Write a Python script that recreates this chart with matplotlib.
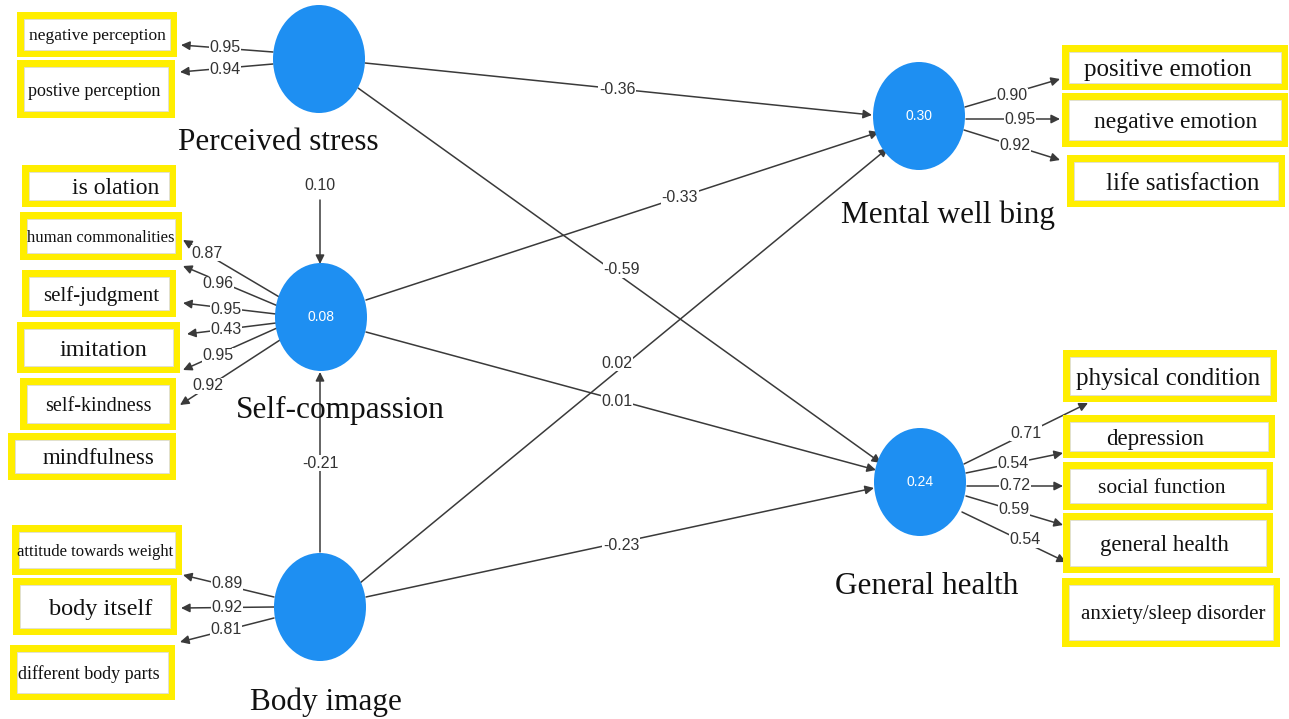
import matplotlib.pyplot as plt
import matplotlib.patches as patches

# ---- data ----
constructs = ['Perceived stress', 'Self-compassion', 'Body image', 'Mental well bing', 'General health']
r_squared = [None, 0.08, None, 0.30, 0.24]

path_from = ['Perceived stress', 'Perceived stress', 'Self-compassion', 'Self-compassion',
             'Body image', 'Body image', 'Perceived stress', 'Body image']
path_to = ['Mental well bing', 'General health', 'Mental well bing', 'General health',
           'Mental well bing', 'General health', 'Self-compassion', 'Self-compassion']
path_coef = [-0.36, -0.59, -0.33, 0.01, 0.02, -0.23, 0.10, -0.21]

ps_items = ['negative perception', 'postive perception']
ps_loadings = [0.95, 0.94]
sc_items = ['is olation', 'human commonalities', 'self-judgment', 'imitation', 'self-kindness', 'mindfulness']
sc_loadings = [0.87, 0.96, 0.95, 0.43, 0.95, 0.92]
bi_items = ['attitude towards weight', 'body itself', 'different body parts']
bi_loadings = [0.89, 0.92, 0.81]
mw_items = ['positive emotion', 'negative emotion', 'life satisfaction']
mw_loadings = [0.90, 0.95, 0.92]
gh_items = ['physical condition', 'depression', 'social function', 'general health', 'anxiety/sleep disorder']
gh_loadings = [0.71, 0.54, 0.72, 0.59, 0.54]

# ---- layout (pixel coords) ----
W, H = 1289, 719
node_xy = {'Perceived stress': (319, 59), 'Self-compassion': (321, 317), 'Body image': (320, 607),
           'Mental well bing': (919, 116), 'General health': (920, 482)}
node_label_xy = {'Perceived stress': (278, 142), 'Self-compassion': (340, 410), 'Body image': (326, 702),
                 'Mental well bing': (948, 215), 'General health': (927, 587)}

# path line start, end, label position
path_geom = [((365, 63), (872, 115), (617, 90)),
             ((358, 88), (881, 463), (622, 270)),
             ((366, 300), (879, 132), (680, 198)),
             ((366, 332), (876, 470), (617, 402)),
             ((360, 583), (888, 148), (617, 363)),
             ((366, 597), (874, 488), (621, 545)),
             ((320, 200), (320, 264), (320, 185)),
             ((320, 552), (320, 372), (320, 463))]

# indicator boxes: (x0, y0, x1, y1), text x, font size
ps_boxes = [((17, 12, 177, 57), 97, 12.5), ((17, 60, 175, 118), 94, 13)]
sc_boxes = [((22, 165, 176, 207), 116, 17), ((20, 212, 182, 260), 101, 12),
            ((22, 270, 176, 317), 101, 15), ((17, 322, 180, 373), 103, 17.5),
            ((20, 378, 176, 430), 98, 14.5), ((8, 433, 176, 480), 99, 16.5)]
bi_boxes = [((12, 525, 182, 575), 95, 12), ((13, 578, 177, 635), 101, 17.5),
            ((10, 645, 175, 700), 89, 13)]
mw_boxes = [((1062, 45, 1288, 90), 1168, 18), ((1062, 93, 1288, 147), 1176, 17),
            ((1067, 155, 1285, 207), 1183, 18)]
gh_boxes = [((1063, 350, 1277, 402), 1168, 18), ((1063, 415, 1275, 458), 1155, 16.5),
            ((1063, 462, 1273, 510), 1162, 15.5), ((1063, 513, 1273, 573), 1164, 16.5),
            ((1062, 578, 1280, 647), 1173, 15)]

# loading arrows: start, end, label position
ps_arrows = [((273, 52), (181, 45), (225, 48)), ((273, 64), (180, 72), (225, 70))]
sc_arrows = [((281, 298), (183, 240), (207, 253)), ((278, 306), (183, 266), (218, 284)),
             ((276, 314), (183, 303), (226, 310)), ((276, 323), (187, 334), (226, 329)),
             ((277, 328), (183, 370), (218, 356)), ((280, 340), (180, 405), (208, 386))]
bi_arrows = [((274, 597), (183, 575), (227, 583)), ((274, 607), (181, 608), (227, 608)),
             ((274, 618), (180, 642), (226, 630))]
mw_arrows = [((965, 107), (1060, 79), (1012, 96)), ((966, 119), (1060, 119), (1020, 119)),
             ((964, 130), (1060, 160), (1015, 146))]
gh_arrows = [((964, 464), (1088, 403), (1026, 433)), ((966, 473), (1063, 453), (1013, 464)),
             ((967, 486), (1063, 486), (1015, 486)), ((966, 496), (1063, 525), (1014, 510)),
             ((962, 512), (1066, 562), (1025, 540))]

SERIF = 'Liberation Serif'
NARROW = ['Liberation Sans Narrow', 'Liberation Sans', 'DejaVu Sans']
YELLOW = '#FFEE00'
BLUE = '#1E8FF2'
LINE = '#3a3a3a'

fig = plt.figure(figsize=(W / 100, H / 100), dpi=100)
ax = fig.add_axes([0, 0, 1, 1])
ax.set_xlim(0, W)
ax.set_ylim(H, 0)
ax.axis('off')


def arrow(start, end, zorder=1):
    ax.annotate('', xy=end, xytext=start,
                arrowprops=dict(arrowstyle='-|>', color=LINE, lw=1.1, mutation_scale=13,
                                shrinkA=0, shrinkB=0), zorder=zorder)


def num_label(xy, value, size=11.5):
    ax.text(xy[0], xy[1], f'{value:.2f}', ha='center', va='center', fontsize=size,
            family=NARROW, color='#333333', zorder=3,
            bbox=dict(facecolor='white', edgecolor='none', pad=0.6))


def draw_box(rect, tx, size, label):
    x0, y0, x1, y1 = rect
    ax.add_patch(patches.Rectangle((x0, y0), x1 - x0, y1 - y0, facecolor=YELLOW,
                                   edgecolor='none', zorder=4))
    ax.add_patch(patches.Rectangle((x0 + 7, y0 + 7), x1 - x0 - 14, y1 - y0 - 14,
                                   facecolor='white', edgecolor='#dddddd', lw=0.6, zorder=5))
    ax.text(tx, (y0 + y1) / 2, label, ha='center', va='center_baseline', fontsize=size,
            family=SERIF, color='#111111', zorder=6)


# structural paths
for src, dst, coef, (s, e, lp) in zip(path_from, path_to, path_coef, path_geom):
    arrow(s, e)
    num_label(lp, coef)

# measurement model
groups = [(ps_items, ps_loadings, ps_boxes, ps_arrows),
          (sc_items, sc_loadings, sc_boxes, sc_arrows),
          (bi_items, bi_loadings, bi_boxes, bi_arrows),
          (mw_items, mw_loadings, mw_boxes, mw_arrows),
          (gh_items, gh_loadings, gh_boxes, gh_arrows)]
for items, loads, boxes, arrows in groups:
    for (s, e, lp), val in zip(arrows, loads):
        arrow(s, e)
        num_label(lp, val)
    for name, (rect, tx, size) in zip(items, boxes):
        draw_box(rect, tx, size, name)

# latent variables
for name, r2 in zip(constructs, r_squared):
    cx, cy = node_xy[name]
    ax.add_patch(patches.Ellipse((cx, cy), 92, 108, facecolor=BLUE, edgecolor='none', zorder=7))
    if r2 is not None:
        ax.text(cx, cy, f'{r2:.2f}', ha='center', va='center', fontsize=10,
                family=NARROW, color='white', zorder=8)
    lx, ly = node_label_xy[name]
    ax.text(lx, ly, name, ha='center', va='center', fontsize=22.5, family=SERIF,
            color='#111111', zorder=8)

fig.savefig('out.png', dpi=100)
